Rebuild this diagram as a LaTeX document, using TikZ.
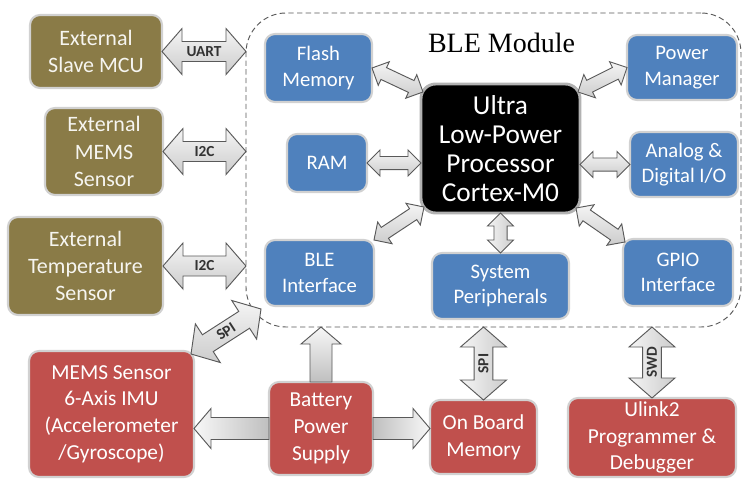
\documentclass[tikz,border=0pt]{standalone}
\usepackage{fontspec}
\setmainfont{Carlito}
\newfontfamily\titlefont{Liberation Serif}
\usetikzlibrary{calc}

\definecolor{extolive}{HTML}{8A7B47}
\definecolor{modblue}{HTML}{4F81BD}
\definecolor{hwred}{HTML}{C0504D}

\tikzset{
  boxbase/.style={rounded corners=7.5pt, draw=black!18, line width=1.6pt,
    inner sep=0pt, outer sep=0pt, align=center, text=white},
  extbox/.style={boxbase, fill=extolive, text=white!92!extolive,
    font=\fontsize{16.5}{20.5}\selectfont},
  modbox/.style={boxbase, fill=modblue, font=\fontsize{15.5}{19}\selectfont},
  hwbox/.style={boxbase, fill=hwred, font=\fontsize{16}{20}\selectfont},
  cpubox/.style={boxbase, fill=black, draw=black!30, line width=2.2pt,
    rounded corners=11pt, font=\fontsize{20.5}{21.75}\selectfont},
  modframe/.style={draw=black!65, line width=0.7pt, dash pattern=on 4pt off 2.5pt,
    rounded corners=30pt, inner sep=0pt, outer sep=0pt},
  arrowbase/.style={draw=black!65, line width=0.7pt, line join=miter},
  fatarrow/.style={arrowbase, top color=gray!8, bottom color=gray!40},
  fatarrowv/.style={arrowbase, left color=gray!8, right color=gray!40},
  feedleft/.style={arrowbase, left color=gray!6, right color=gray!50},
  feedright/.style={arrowbase, left color=gray!50, right color=gray!6},
  feedup/.style={arrowbase, top color=gray!6, bottom color=gray!50},
  arrowlabel/.style={font=\fontsize{11.5}{12}\selectfont\bfseries, text=black!80, inner sep=0pt},
}

% box from corner (#2,#3) to corner (#4,#5), in pixel units
\newcommand\blk[7]{%
  \node[#6, minimum width={(#4-#2)*0.75pt}, minimum height={(#5-#3)*0.75pt}]
    (#1) at ({(#2+#4)/2},{(#3+#5)/2}) {#7};}

% double-headed fat arrow between named coordinates #1 and #2:
% #3 shaft half-width, #4 head half-width, #5 head length, #6 style
\newcommand\dblarrow[6]{%
  \coordinate (h1) at ($(#1)!#5!(#2)$);
  \coordinate (h2) at ($(#2)!#5!(#1)$);
  \draw[#6] (#1) -- ($(h1)!#4!90:(#2)$) -- ($(h1)!#3!90:(#2)$)
    -- ($(h2)!#3!-90:(#1)$) -- ($(h2)!#4!-90:(#1)$) -- (#2)
    -- ($(h2)!#4!90:(#1)$) -- ($(h2)!#3!90:(#1)$)
    -- ($(h1)!#3!-90:(#2)$) -- ($(h1)!#4!-90:(#2)$) -- cycle;}

% single-headed fat arrow from #1 to #2
\newcommand\onearrow[6]{%
  \coordinate (h2) at ($(#2)!#5!(#1)$);
  \draw[#6] ($(#1)!#3!90:(#2)$) -- ($(h2)!#3!-90:(#1)$) -- ($(h2)!#4!-90:(#1)$)
    -- (#2) -- ($(h2)!#4!90:(#1)$) -- ($(h2)!#3!90:(#1)$)
    -- ($(#1)!#3!-90:(#2)$) -- cycle;}

\begin{document}
\begin{tikzpicture}[x=0.75pt, y=-0.75pt]
\useasboundingbox (0,0) rectangle (744,479);
\fill[white] (0,0) rectangle (744,479);

% BLE module frame and title
\blk{ble}{246}{13}{741}{327}{modframe}{}
\node[font=\titlefont\fontsize{21}{24}\selectfont, anchor=base, inner sep=0pt]
  (bletitle) at (501.5,52) {BLE Module};

% external devices
\blk{ext1}{30}{15}{162}{88}{extbox}{External\\Slave MCU}
\blk{ext2}{45}{108}{163}{195}{extbox}{External\\MEMS\\Sensor}
\blk{ext3}{8}{217}{163}{315}{extbox}{External\\Temperature\\Sensor}

% blocks inside the module
\blk{flash}{265}{34}{372}{102}{modbox}{Flash\\Memory}
\blk{ram}{287}{134}{367}{192}{modbox}{RAM}
\blk{cpu}{421}{84}{580}{213}{cpubox}{Ultra\\Low-Power\\Processor\\Cortex-M0}
\blk{pwr}{627}{35}{737}{100}{modbox}{Power\\Manager}
\blk{adio}{630}{132}{738}{197}{modbox}{Analog \&\\Digital I/O}
\blk{bleif}{265}{240}{374}{306}{modbox}{BLE\\Interface}
\blk{sysp}{432}{253}{569}{319}{modbox}{System\\Peripherals}
\blk{gpio}{623}{239}{733}{306}{modbox}{GPIO\\Interface}

% on-board hardware
\blk{imu}{29}{351}{194}{477}{hwbox}{MEMS Sensor\\6-Axis IMU\\(Accelerometer\\/Gyroscope)}
\blk{batt}{269}{382}{373}{475}{hwbox}{Battery\\Power\\Supply}
\blk{obm}{430}{400}{537}{474}{hwbox}{On Board\\Memory}
\blk{ulink}{568}{398}{736}{477}{hwbox}{Ulink2\\Programmer \&\\Debugger}

% arrow end points
\coordinate (uartA) at (ext1.east);  \coordinate (uartB) at (ext1.east -| ble.west);
\coordinate (icaA) at (ext2.east);   \coordinate (icaB) at (ext2.east -| ble.west);
\coordinate (icbA) at (ext3.east);   \coordinate (icbB) at (ext3.east -| ble.west);
\coordinate (spiA) at ($(imu.north east)+(-3,3)$); \coordinate (spiB) at (261,309);
\coordinate (flA) at (flash.east);   \coordinate (flB) at ($(cpu.north west)+(2,8)$);
\coordinate (raA) at (ram.east);     \coordinate (raB) at (ram.east -| cpu.west);
\coordinate (pwA) at ($(cpu.north east)+(-2,8)$); \coordinate (pwB) at (pwr.west);
\coordinate (adA) at (cpu.east |- adio.west); \coordinate (adB) at (adio.west);
\coordinate (biA) at (bleif.north east); \coordinate (biB) at ($(cpu.south west)+(3,-6)$);
\coordinate (spA) at (cpu.south);    \coordinate (spB) at (sysp.north);
\coordinate (gpA) at ($(cpu.south east)+(-4,-5)$); \coordinate (gpB) at ($(gpio.north west)+(2,3)$);
\coordinate (bupA) at (batt.north);  \coordinate (bupB) at (batt.north |- ble.south);
\coordinate (blA) at (batt.west);    \coordinate (blB) at (batt.west -| imu.east);
\coordinate (brA) at (batt.east);    \coordinate (brB) at (batt.east -| obm.west);
\coordinate (svA) at (obm.north);    \coordinate (svB) at (obm.north |- ble.south);
\coordinate (swA) at (ulink.north);  \coordinate (swB) at (ulink.north |- ble.south);

% external buses
\dblarrow{uartA}{uartB}{7.5pt}{17.25pt}{15pt}{fatarrow}
\dblarrow{icaA}{icaB}{7.5pt}{17.25pt}{15pt}{fatarrow}
\dblarrow{icbA}{icbB}{7.5pt}{17.25pt}{15pt}{fatarrow}
\dblarrow{spiA}{spiB}{7.5pt}{17.25pt}{15pt}{fatarrow}
\dblarrow{svA}{svB}{7pt}{17.25pt}{15pt}{fatarrowv}
\dblarrow{swA}{swB}{7pt}{17.25pt}{15pt}{fatarrowv}

\node[arrowlabel] (luart) at ($(uartA)!0.5!(uartB)$) {UART};
\node[arrowlabel] (lica) at ($(icaA)!0.5!(icaB)$) {I2C};
\node[arrowlabel] (licb) at ($(icbA)!0.5!(icbB)$) {I2C};
\node[arrowlabel, rotate=33] (lspi) at ($(spiA)!0.5!(spiB)$) {SPI};
\node[arrowlabel, rotate=90] (lspv) at ($(svA)!0.5!(svB)$) {SPI};
\node[arrowlabel, rotate=90] (lswd) at ($(swA)!0.5!(swB)$) {SWD};

% internal links to the processor
\dblarrow{flA}{flB}{4.9pt}{9.75pt}{9.75pt}{fatarrow}
\dblarrow{raA}{raB}{4.9pt}{9.75pt}{9.75pt}{fatarrow}
\dblarrow{pwA}{pwB}{4.9pt}{9.75pt}{9.75pt}{fatarrow}
\dblarrow{adA}{adB}{4.9pt}{9.75pt}{9.75pt}{fatarrow}
\dblarrow{biA}{biB}{4.9pt}{9.75pt}{9.75pt}{fatarrow}
\dblarrow{spA}{spB}{4.9pt}{9.75pt}{9.75pt}{fatarrowv}
\dblarrow{gpA}{gpB}{4.9pt}{9.75pt}{9.75pt}{fatarrow}

% power distribution
\onearrow{bupA}{bupB}{8.25pt}{15pt}{12.75pt}{feedup}
\onearrow{blA}{blB}{8.25pt}{15pt}{12.75pt}{feedleft}
\onearrow{brA}{brB}{8.25pt}{15pt}{12.75pt}{feedright}
\end{tikzpicture}
\end{document}
